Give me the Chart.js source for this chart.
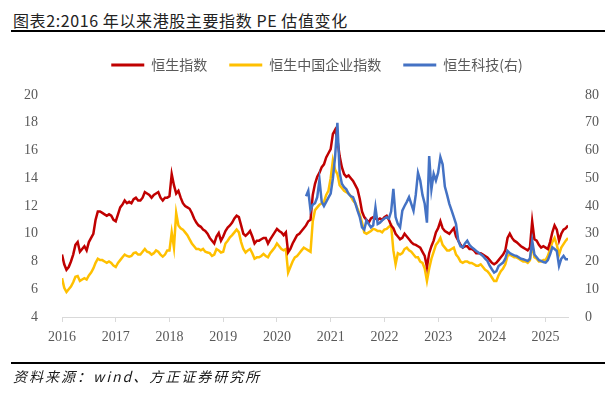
<!DOCTYPE html>
<html>
<head>
<meta charset="utf-8">
<script src="https://cdn.jsdelivr.net/npm/chart.js@4.4.1/dist/chart.umd.min.js"></script>
<style>
	html, body { margin: 0; padding: 0; background: #fff; }
	body { width: 616px; height: 399px; position: relative; overflow: hidden; }
	#title {
		position: absolute; left: 13px; top: 10px;
		font: 16px 'Noto Sans CJK SC', sans-serif; line-height: 20px;
		letter-spacing: 0.6px; color: #222; white-space: nowrap;
	}
	.rule { position: absolute; left: 11px; width: 594px; height: 2px; background: #000; }
	#source {
		position: absolute; left: 13px; top: 367px;
		font: italic 14px 'Noto Sans CJK SC', sans-serif; line-height: 18px;
		letter-spacing: 2px; color: #1a1a1a; white-space: nowrap;
	}
	#pe-chart { position: absolute; left: 0; top: 0; }
</style>
</head>
<body>
<div id="title">图表2:2016 年以来港股主要指数 PE 估值变化</div>
<div class="rule" style="top:30px"></div>
<canvas id="pe-chart" width="616" height="399"></canvas>
<div class="rule" style="top:362px"></div>
<div id="source">资料来源：wind、方正证券研究所</div>

<script>
// ===================== Data (semi-monthly readings, 2016-01 .. 2025-06) =====================

const seriesNames = ['恒生指数', '恒生中国企业指数', '恒生科技(右)'];
const yearTicks = [2016, 2017, 2018, 2019, 2020, 2021, 2022, 2023, 2024, 2025];

// 恒生指数 PE
const hsi = [
	8.5, 7.8, 7.4, 7.6, 8.0, 8.5, 9.2, 9.4, 8.7, 8.9, 9.1, 8.8, 9.4, 9.7, 10.0, 11.0, 11.6, 11.6, 11.5, 11.4, 11.3, 11.4, 11.3, 11.0,
	10.9, 11.4, 11.9, 12.1, 12.4, 12.2, 12.3, 12.2, 12.5, 12.6, 12.4, 12.4, 12.6, 13.0, 12.9, 12.8, 12.6, 12.8, 12.9, 13.0, 12.6, 12.4, 12.6, 12.6,
	12.7, 14.3, 13.5, 12.9, 13.1, 12.6, 12.2, 12.0, 11.9, 11.8, 11.5, 11.1, 10.8, 10.6, 10.5, 10.3, 10.2, 10.0, 9.7, 9.5, 9.3, 9.8, 10.05, 9.5,
	9.8, 10.2, 10.45, 10.6, 10.8, 11.1, 11.3, 11.2, 10.6, 10.0, 9.85, 10.0, 10.2, 9.8, 9.3, 9.5, 9.5, 9.6, 9.7, 9.7, 9.3, 9.6, 9.85, 10.1,
	10.35, 10.2, 10.1, 9.9, 10.1, 8.65, 8.9, 9.3, 9.6, 9.9, 10.0, 10.2, 10.4, 10.6, 10.9, 11.0, 12.8, 13.6, 14.1, 14.4, 14.8, 15.0, 15.5, 15.8,
	16.1, 17.2, 17.5, 16.8, 15.6, 14.8, 14.3, 14.1, 14.2, 14.0, 13.8, 13.5, 13.2, 12.5, 11.6, 11.2, 11.0, 10.8, 11.1, 11.2, 11.1, 11.0, 11.1, 11.0,
	11.2, 11.3, 11.0, 10.6, 10.4, 10.0, 9.8, 9.6, 9.7, 10.0, 9.8, 9.6, 9.4, 9.25, 9.2, 9.1, 9.0, 8.7, 8.4, 7.6, 8.6, 9.1, 9.5, 10.1,
	10.4, 10.9, 10.4, 10.2, 10.1, 10.0, 10.2, 10.4, 9.8, 9.5, 9.2, 9.0, 9.1, 9.1, 8.9, 8.9, 8.8, 8.6, 8.6, 8.6, 8.5, 8.4, 8.3, 8.1,
	7.9, 7.8, 7.9, 8.1, 8.3, 8.5, 8.8, 9.7, 10.0, 9.7, 9.5, 9.4, 9.25, 9.1, 9.0, 8.9, 8.8, 9.0, 10.9, 9.6, 9.5, 9.2, 9.0, 9.1,
	9.0, 8.9, 9.4, 10.1, 10.6, 10.3, 9.5, 10.0, 10.3, 10.4, 10.6,
];

// 恒生中国企业指数 PE
const hscei = [
	6.8, 6.1, 5.8, 6.0, 6.2, 6.5, 6.9, 6.95, 6.6, 6.7, 6.8, 6.7, 7.0, 7.2, 7.5, 7.9, 8.2, 8.1, 8.1, 8.0, 7.9, 8.0, 7.9, 7.7,
	7.6, 7.9, 8.1, 8.3, 8.5, 8.4, 8.35, 8.4, 8.6, 8.65, 8.5, 8.5, 8.7, 8.9, 8.7, 8.65, 8.5, 8.6, 8.8, 8.7, 8.5, 8.35, 8.5, 8.8,
	8.8, 10.1, 9.0, 11.5, 10.6, 10.4, 10.3, 10.1, 9.9, 9.6, 9.3, 9.1, 8.9, 8.9, 8.8, 8.9, 8.7, 8.65, 8.6, 8.4, 8.5, 8.9, 8.8, 8.65,
	8.7, 9.3, 9.5, 9.75, 9.9, 10.1, 10.3, 10.1, 9.4, 8.9, 8.65, 8.8, 8.9, 8.6, 8.2, 8.3, 8.3, 8.4, 8.55, 8.4, 8.3, 8.6, 8.8, 9.0,
	9.3, 9.1, 8.9, 8.8, 8.9, 7.2, 7.6, 8.0, 8.3, 8.4, 8.6, 8.8, 9.0, 8.9, 8.8, 8.7, 10.9, 11.7, 11.9, 12.1, 12.2, 12.3, 12.8, 13.1,
	14.0, 15.3, 14.6, 14.3, 13.5, 13.3, 13.1, 13.0, 12.9, 12.7, 12.4, 12.2, 11.8, 11.4, 10.8, 10.1, 10.0, 10.1, 10.2, 10.35, 10.3, 10.2, 10.2, 10.1,
	10.3, 10.35, 10.5, 10.6, 8.8, 7.8, 8.6, 8.5, 8.6, 8.9, 9.0, 8.8, 8.7, 8.5, 8.3, 8.3, 8.0, 7.9, 7.5, 6.6, 7.5, 8.2, 8.7, 9.2,
	9.4, 9.7, 9.2, 9.0, 8.8, 8.8, 8.9, 9.0, 8.5, 8.3, 8.0, 7.9, 8.0, 8.0, 7.9, 7.9, 7.8, 7.7, 7.7, 7.8, 7.6, 7.4, 7.3, 7.1,
	6.85, 6.6, 6.6, 7.0, 7.3, 7.5, 7.8, 8.4, 8.5, 8.4, 8.3, 8.3, 8.2, 8.1, 8.0, 8.0, 7.9, 8.1, 9.2, 8.3, 8.2, 8.0, 8.0, 8.1,
	8.1, 8.4, 8.9, 9.4, 9.7, 9.2, 8.5, 9.0, 9.25, 9.5, 9.7,
];

// 恒生科技 PE (right axis), index launched mid-2020
const hstech = [
	...Array(109).fill(null),
	43.5, 45.5, 38.5, 40.5, 41.0, 43.2, 49.5, 41.5, 40.0, 41.5, 43.0,
	44.5, 50.0, 58.0, 70.0, 52.0, 48.0, 46.8, 46.0, 44.4, 43.5, 43.2, 41.0, 38.3, 36.0, 32.3, 31.5, 34.8, 33.5, 32.3, 33.0, 39.5, 33.5, 34.0, 34.8,
	35.5, 36.0, 35.5, 38.0, 46.2, 36.0, 33.5, 32.3, 38.3, 40.0, 41.5, 43.2, 40.8, 38.3, 44.0, 52.0, 49.2, 44.0, 40.8, 34.0, 58.0, 46.0, 51.6, 49.2,
	52.0, 57.6, 55.0, 47.0, 44.0, 40.8, 38.4, 36.0, 33.5, 27.5, 25.5, 25.1, 26.5, 27.5, 26.0, 25.1, 24.5, 23.8, 23.2, 22.6, 22.0, 21.0, 20.2, 18.5,
	17.2, 16.0, 16.5, 18.4, 19.0, 19.6, 21.0, 23.8, 23.0, 22.6, 22.2, 22.0, 21.5, 21.0, 20.8, 20.5, 20.2, 21.0, 27.5, 22.5, 21.5, 20.5, 20.2, 19.8,
	19.6, 20.5, 22.6, 25.1, 24.5, 23.8, 18.4, 21.0, 22.0, 20.8, 20.8,
];

// sample dates: one reading every half month starting Jan 2016
const dates = hsi.map((v, i) => 2016 + i / 24);

const toPoints = (arr) => arr.map((v, i) => ({ x: dates[i], y: v }));

// ===================== Chart =====================

const axisFont = { family: "'Liberation Serif', 'Times New Roman', serif", size: 14 };
const grey = '#595959';

// give the legend extra room below it so the plot starts lower
const legendGap = {
	id: 'legendGap',
	beforeInit(chart) {
		const fit = chart.legend.fit;
		chart.legend.fit = function () {
			fit.bind(chart.legend)();
			this.height += 13;
		};
	},
};

const peCanvas = document.querySelector('#pe-chart');

const peChart = new Chart(peCanvas, {
	type: 'line',
	data: {
		datasets: [
			{
				label: seriesNames[0],
				data: toPoints(hsi),
				borderColor: '#C00000',
				backgroundColor: '#C00000',
				yAxisID: 'y',
				order: 1,
			},
			{
				label: seriesNames[1],
				data: toPoints(hscei),
				borderColor: '#FFC000',
				backgroundColor: '#FFC000',
				yAxisID: 'y',
				order: 2,
			},
			{
				label: seriesNames[2],
				data: toPoints(hstech),
				borderColor: '#4472C4',
				backgroundColor: '#4472C4',
				yAxisID: 'y1',
				order: 0,
			},
		],
	},
	options: {
		responsive: false,
		animation: false,
		devicePixelRatio: 1,
		layout: {
			padding: { top: 36, left: 18, right: 0, bottom: 0 },
		},
		elements: {
			point: { radius: 0 },
			line: { borderWidth: 2.5, tension: 0 },
		},
		plugins: {
			tooltip: { enabled: false },
			legend: {
				position: 'top',
				labels: {
					boxWidth: 33,
					boxHeight: 3,
					padding: 22,
					color: grey,
					font: { family: "'Noto Sans CJK SC', sans-serif", size: 14 },
					sort: (a, b) => a.datasetIndex - b.datasetIndex,
					generateLabels(chart) {
						const items = Chart.defaults.plugins.legend.labels.generateLabels(chart);
						items.forEach((item) => {
							item.fillStyle = item.strokeStyle;
							item.lineWidth = 0;
						});
						return items;
					},
				},
			},
		},
		scales: {
			x: {
				type: 'linear',
				min: 2016,
				max: dates[dates.length - 1],
				afterBuildTicks(scale) {
					scale.ticks = yearTicks.map((v) => ({ value: v }));
				},
				afterFit(scale) {
					scale.height = 82;
				},
				ticks: {
					color: grey,
					font: axisFont,
					padding: 7,
					maxRotation: 0,
					autoSkip: false,
					callback: (v) => String(v),
				},
				grid: {
					drawOnChartArea: false,
					drawTicks: true,
					tickLength: 5,
					color: '#D9D9D9',
				},
				border: { color: '#D9D9D9', width: 1 },
			},
			y: {
				position: 'left',
				min: 4,
				max: 20,
				afterFit(scale) {
					scale.width = 44;
				},
				ticks: { stepSize: 2, color: grey, font: axisFont, padding: 16 },
				grid: { display: false },
				border: { display: false },
			},
			y1: {
				position: 'right',
				min: 0,
				max: 80,
				afterFit(scale) {
					scale.width = 48;
				},
				ticks: { stepSize: 10, color: grey, font: axisFont, padding: 9 },
				grid: { display: false },
				border: { display: false },
			},
		},
	},
	plugins: [legendGap],
});
</script>
</body>
</html>
